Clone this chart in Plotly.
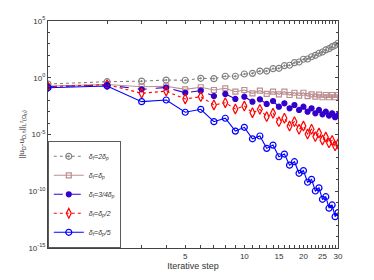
import plotly.graph_objects as go

steps = list(range(1, 31))

err_2dp = [0.28, 0.45, 0.50, 0.63, 0.60, 0.89, 0.83, 1.35, 1.35, 2.14,
           2.45, 3.9, 3.9, 6.3, 6.8, 11.5, 12.6, 21.4, 24.5, 42.7,
           44.7, 70.8, 95.5, 144.5, 186, 282, 363, 550, 724, 1096]
err_dp = [0.186, 0.251, 0.162, 0.178, 0.0955, 0.145, 0.0832, 0.117, 0.0589, 0.0832,
          0.0427, 0.0724, 0.0372, 0.0589, 0.0347, 0.0589, 0.0302, 0.0479, 0.0263, 0.0479,
          0.0245, 0.0347, 0.0214, 0.0324, 0.0191, 0.0302, 0.0191, 0.0302, 0.0191, 0.0302]
err_34dp = [0.162, 0.229, 0.0955, 0.138, 0.0479, 0.0724, 0.0245, 0.0372, 0.0135, 0.0214,
            7.76e-3, 0.0126, 4.9e-3, 8.91e-3, 2.82e-3, 5.62e-3, 2.04e-3, 3.98e-3, 1.45e-3, 2.82e-3,
            1.02e-3, 2.04e-3, 7.4e-4, 1.45e-3, 6.0e-4, 1.02e-3, 4.6e-4, 7.4e-4, 3.3e-4, 5.2e-4]
err_dp2 = [0.162, 0.251, 0.0427, 0.0661, 0.0135, 0.0214, 3.98e-3, 6.31e-3, 1.78e-3, 3.24e-3,
           8.3e-4, 1.66e-3, 3.7e-4, 7.4e-4, 1.35e-4, 2.7e-4, 5.6e-5, 1.35e-4, 2.9e-5, 5.6e-5,
           1.1e-5, 2.9e-5, 6.5e-6, 1.35e-5, 3.3e-6, 6.0e-6, 1.8e-6, 3.0e-6, 9.8e-7, 1.45e-6]
err_dp5 = [0.132, 0.186, 7.8e-3, 1.1e-2, 9.1e-4, 1.66e-3, 1.35e-4, 2.7e-4, 2.0e-5, 4.3e-5,
           4.2e-6, 7.4e-6, 6.0e-7, 1.17e-6, 1.1e-7, 1.9e-7, 2.0e-8, 4.0e-8, 3.8e-9, 6.5e-9,
           6.2e-10, 1.12e-9, 1.05e-10, 2.0e-10, 1.95e-11, 3.3e-11, 3.2e-12, 6.2e-12, 5.8e-13, 1.3e-12]

names = ["<i>δ<sub>f</sub>=2δ<sub>p</sub></i>",
         "<i>δ<sub>f</sub>=δ<sub>p</sub></i>",
         "<i>δ<sub>f</sub>=3/4δ<sub>p</sub></i>",
         "<i>δ<sub>f</sub>=δ<sub>p</sub>/2</i>",
         "<i>δ<sub>f</sub>=δ<sub>p</sub>/5</i>"]

x_tickvals = list(range(1, 31))
x_ticktext = [str(v) if v in (5, 10, 15, 20, 25, 30) else "" for v in x_tickvals]
y_tickvals = [1e5, 1e0, 1e-5, 1e-10, 1e-15]
y_ticktext = ["10<sup>5</sup>", "10<sup>0</sup>", "10<sup>-5</sup>", "10<sup>-10</sup>", "10<sup>-15</sup>"]
y_minor = [1e5, 1e4, 1e3, 1e2, 1e1, 1e0, 1e-1, 1e-2, 1e-3, 1e-4, 1e-5, 1e-6, 1e-7,
           1e-8, 1e-9, 1e-10, 1e-11, 1e-12, 1e-13, 1e-14, 1e-15]

styles = [
    dict(color="#808080", dash="dot", symbol="circle-open-dot", size=6),
    dict(color="#bc8f8f", dash="solid", symbol="square-open", size=5),
    dict(color="#3300cc", dash="dash", symbol="circle", size=5),
    dict(color="#ff0000", dash="dot", symbol="diamond-tall-open", size=7),
    dict(color="#0000ff", dash="solid", symbol="circle-open", size=6),
]
series = [err_2dp, err_dp, err_34dp, err_dp2, err_dp5]

fig = go.Figure()
for ys, nm, st in zip(series, names, styles):
    fig.add_trace(go.Scatter(
        x=steps, y=ys, name=nm, mode="lines+markers",
        line=dict(color=st["color"], dash=st["dash"], width=1.1),
        marker=dict(symbol=st["symbol"], size=st["size"], color=st["color"],
                    line=dict(color=st["color"], width=1.2)),
    ))

axis_common = dict(showgrid=False, zeroline=False, showline=True, linecolor="#444444",
                   linewidth=1, mirror="ticks", ticks="inside", tickcolor="#444444",
                   ticklen=3, tickfont=dict(size=8, color="#333333"), automargin=False)

fig.update_xaxes(type="log", range=[0, 1.4771], tickvals=x_tickvals, ticktext=x_ticktext,
                 title=dict(text="Iterative step", font=dict(size=9, color="#333333"), standoff=2),
                 **axis_common)
fig.update_yaxes(type="log", range=[-15, 5], tickvals=y_tickvals, ticktext=y_ticktext,
                 minor=dict(ticks="inside", ticklen=2, tickcolor="#444444", tickvals=y_minor),
                 title=dict(text="||u<sub>D</sub>-u<sub>D,h</sub>||<sub>L<sup>2</sup>(Ω<sub>D</sub>)</sub>",
                            font=dict(size=8, color="#333333"), standoff=2),
                 **axis_common)

fig.update_layout(
    width=374, height=280,
    margin=dict(l=40, r=44, t=13, b=40),
    paper_bgcolor="white", plot_bgcolor="white",
    font=dict(family="Liberation Sans, Arial, sans-serif", size=8, color="#333333"),
    legend=dict(x=0, y=0, xanchor="left", yanchor="bottom",
                bgcolor="white", bordercolor="#333333", borderwidth=0.8,
                font=dict(size=7), itemwidth=30, tracegroupgap=0,
                traceorder="normal", itemsizing="trace"),
)

fig.write_html("out.html")
